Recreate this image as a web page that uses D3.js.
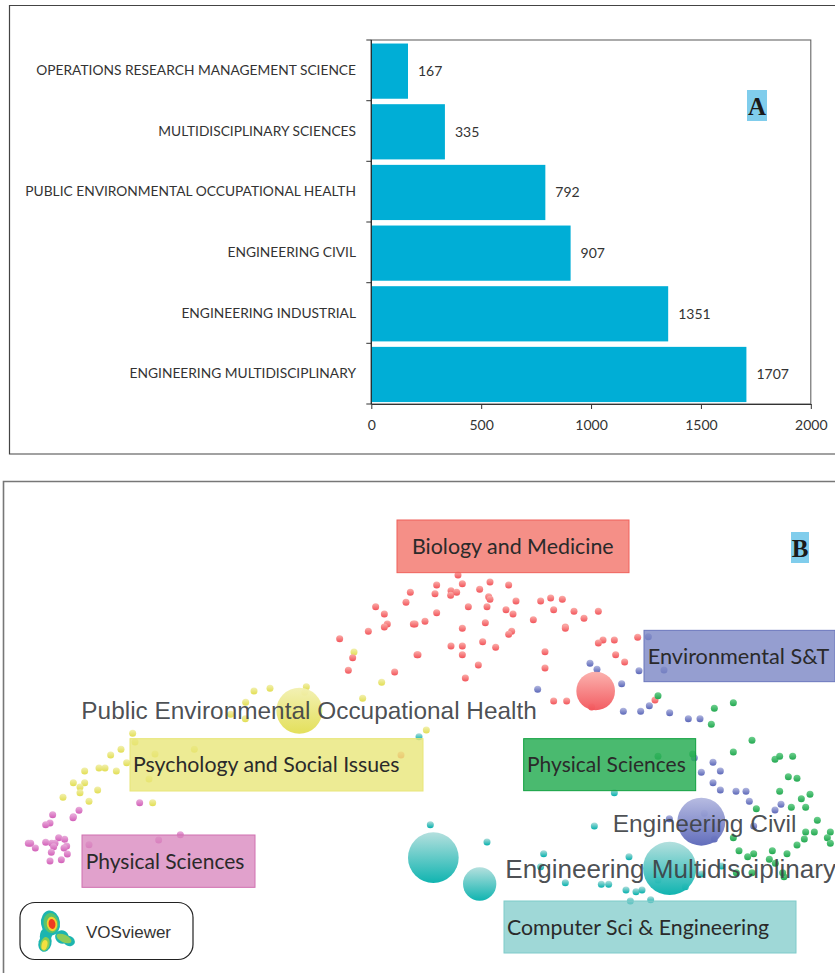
<!DOCTYPE html>
<html><head><meta charset="utf-8">
<script src="https://cdn.jsdelivr.net/npm/d3@7/dist/d3.min.js"></script>
<style>html,body{margin:0;padding:0;background:#fff}svg{display:block}</style>
</head><body><svg id="c" width="835" height="973"></svg>
<script>
const categories=["OPERATIONS RESEARCH MANAGEMENT SCIENCE","MULTIDISCIPLINARY SCIENCES","PUBLIC ENVIRONMENTAL OCCUPATIONAL HEALTH","ENGINEERING CIVIL","ENGINEERING INDUSTRIAL","ENGINEERING MULTIDISCIPLINARY"];
const counts=[167,335,792,907,1351,1707];
const countTicks=[0,500,1000,1500,2000];

// cluster map values, in map units
const yellowPts=[[1062,516],[1145,607],[1088,655],[919,620],[914,637],[810,625],[762,633],[737,667],[692,703],[736,716],[398,760],[405,786],[363,808],[332,825],[465,822],[583,808],[380,848],[297,864],[315,864],[349,873],[254,873],[447,897],[220,908],[254,908],[240,921],[240,938],[293,930],[189,952],[267,964],[458,968],[1279,750]];
const pinkPts=[[419,968],[237,991],[158,1004],[220,1010],[219,1013],[150,1029],[137,1034],[541,1064],[476,1080],[267,1094],[85,1090],[92,1090],[106,1104],[137,1087],[176,1073],[194,1078],[155,1090],[165,1090],[161,1100],[200,1098],[192,1104],[154,1117],[202,1122],[150,1143],[184,1139]];
const redPts=[[1231,337],[1218,367],[1127,380],[1153,402],[1162,432],[1153,441],[1240,432],[1105,454],[1019,476],[1058,533],[1045,571],[1184,576],[1251,524],[1203,825],[1374,285],[1310,315],[1305,341],[1353,332],[1352,346],[1370,337],[1387,311],[1439,328],[1470,306],[1526,315],[1466,350],[1470,358],[1405,380],[1461,380],[1548,363],[1518,389],[1539,402],[1310,398],[1275,424],[1245,432],[1456,428],[1387,445],[1535,454],[1526,463],[1448,485],[1353,498],[1387,498],[1487,502],[1387,524],[1254,524],[1435,555],[1396,594],[1622,363],[1652,354],[1687,358],[1661,389],[1722,394],[1752,415],[1795,394],[1600,419],[1696,441],[1696,445],[1635,515],[1635,564],[1809,480],[1795,489],[1843,480],[1913,472],[1847,524],[1874,546],[1661,663],[1700,663],[1965,660],[1775,681]];
const bluePts=[[1945,470],[1770,550],[1791,568],[1917,572],[1992,570],[1865,611],[1613,628],[1870,694],[1922,694],[1948,677],[2009,698],[2065,716],[2100,716],[2083,833],[2139,847],[2104,877],[2161,873],[2139,908],[2161,930],[2208,934],[2238,934],[2248,964],[2343,973],[2325,990],[2113,1000],[2008,1016],[2261,1038],[2143,1077]];
const greenPts=[[1974,647],[2143,685],[2200,668],[2134,733],[2256,781],[2200,816],[2078,822],[1974,829],[2325,838],[2339,829],[2378,829],[2365,890],[2391,895],[2339,934],[2404,956],[2430,943],[2417,982],[2374,982],[2269,986],[2452,1021],[2417,1056],[2443,1056],[2491,1056],[2482,1073],[2491,1090],[2413,1077],[2391,1095],[2200,1073],[2217,1112],[2261,1121],[2243,1130],[2317,1112],[2361,1121],[2308,1138],[2326,1150],[2209,1178],[2256,1178],[2352,1190],[2348,1178]];
const tealPts=[[1257,770],[1843,938],[1291,1034],[1783,1038],[1461,1086],[1631,1121],[1887,1130],[1622,1160],[2165,1158],[2105,1182],[1696,1208],[1804,1213],[1826,1213],[1974,1200],[2056,1220],[1878,1230],[1908,1235],[1926,1230],[1891,1263],[1952,1259]];
const bigNodes=[["yellow",898,692,69],["red",1787,633,58],["blue",2104,1025,72],["teal",1300,1133,76],["teal",1439,1212,50],["teal",2009,1165,80]];
const clusterNames=["Biology and Medicine","Psychology and Social Issues","Physical Sciences","Physical Sciences","Environmental S&T","Computer Sci & Engineering"];
const itemNames=["Public Environmental Occupational Health","Engineering Civil","Engineering Multidisciplinary"];
const logoName="VOSviewer";

// styling and layout
const clusterColors={yellow:["#f2f0b0","#e2de52"],pink:["#e9aedb","#d25fb8"],red:["#fbaeaa","#f2545a"],blue:["#b3b8e0","#5a66b8"],green:["#6fd08f","#22a850"],teal:["#b0dedc","#03b0ac"]};
const boxLayout=[
 {x:1191,y:120,w:696,h:158,fill:"#f2695f",stroke:"#f0605a",tx:1236,size:21.4,op:.75},
 {x:390,y:776,w:879,h:157,fill:"#e8e679",stroke:"#e8e679",tx:399,size:21.3,op:.8},
 {x:246,y:1065,w:519,h:157,fill:"#d98abf",stroke:"#d070b0",tx:257,size:21,op:.8},
 {x:1571,y:776,w:516,h:156,fill:"#2aae56",stroke:"#10a040",tx:1581,size:21,op:.85},
 {x:1932,y:451,w:573,h:154,fill:"#7a86c4",stroke:"#6a76bc",tx:1943,size:21.7,op:.8},
 {x:1512,y:1263,w:876,h:156,fill:"#7fcbca",stroke:"#7fcbca",tx:1521,size:21.3,op:.75}
];
const labelLayout=[{x:244,y:692,size:24.4},{x:1838,y:1029,size:24.5},{x:1516,y:1167,size:26.1}];
const logoBlobs=[
 [50.5,923,9.5,12.5,-8,"#1fb5b0"],[46,935,6,8,15,"#1fb5b0"],[45,943,6.5,9,15,"#1fb5b0"],[62,937,7,6.5,30,"#1fb5b0"],[69,941,6,5,25,"#1fb5b0"],
 [51,923,7.5,10,-8,"#5cc468"],[45,944,4.6,7,15,"#8ccc50"],[64,938.5,8,3.8,25,"#8ccc5a"],
 [52,924,5.2,7.2,-8,"#f4d030"],[44.5,945,2.8,5,15,"#f4e040"],[52,924,3.4,5,-8,"#ee3a20"]
];

const svg=d3.select("#c");
const defs=svg.append("defs");
Object.entries(clusterColors).forEach(([k,c])=>{
  const g=defs.append("linearGradient").attr("id","g-"+k).attr("x1",0).attr("y1",0).attr("x2",0).attr("y2",1);
  g.append("stop").attr("offset",0).attr("stop-color",c[0]);
  g.append("stop").attr("offset",1).attr("stop-color",c[1]);
});
defs.append("filter").attr("id","soft").append("feGaussianBlur").attr("stdDeviation",0.6);

const frame="#444";
svg.append("path").attr("d","M835,5.5H9.5V454H835").attr("fill","none").attr("stroke",frame).attr("stroke-width",1.2);
svg.append("path").attr("d","M835,481.5H3.5V973").attr("fill","none").attr("stroke","#777").attr("stroke-width",1.6);

// bar chart
const x=d3.scaleLinear().domain([0,2000]).range([371.3,810.8]);
const y=d3.scaleBand().domain(categories).range([40.8,404.8]).paddingInner(0.09).paddingOuter(0.045);
const font="Lato,'Open Sans',sans-serif";
svg.append("rect").attr("x",x(0)).attr("y",40).attr("width",x(2000)-x(0)).attr("height",364).attr("fill","#fff").attr("stroke","#666").attr("stroke-width",1.1);
svg.append("g").selectAll("rect").data(categories).join("rect")
 .attr("x",x(0)).attr("y",d=>y(d)).attr("height",y.bandwidth())
 .attr("width",(d,i)=>x(counts[i])-x(0)).attr("fill","#00aed6");
const ax=svg.append("g").attr("transform","translate(0,404)").call(d3.axisBottom(x).tickValues(countTicks).tickFormat(d3.format("d")).tickSize(5).tickSizeOuter(0));
ax.select(".domain").attr("stroke","#333").attr("stroke-width",1.1);
ax.selectAll("line").attr("stroke","#333");
ax.selectAll("text").attr("font-family",font).attr("font-size",14).attr("fill","#333").attr("dy",0).attr("y",25.5);
const yBoundaries=d3.range(0,7).map(i=>404-(364/6)*i);
svg.append("g").selectAll("line").data(yBoundaries).join("line")
 .attr("x1",x(0)-5).attr("x2",x(0)).attr("y1",d=>d).attr("y2",d=>d).attr("stroke","#444").attr("stroke-width",1.1);
svg.append("line").attr("x1",x(0)).attr("x2",x(0)).attr("y1",40).attr("y2",404).attr("stroke","#222").attr("stroke-width",1.1);
svg.append("g").selectAll("text").data(categories).join("text")
 .attr("x",356).attr("y",d=>y(d)+y.bandwidth()/2+4).attr("text-anchor","end")
 .attr("font-family",font).attr("font-size",13.75).attr("fill","#333").text(d=>d);
svg.append("g").selectAll("text").data(categories).join("text")
 .attr("x",(d,i)=>x(counts[i])+10).attr("y",d=>y(d)+y.bandwidth()/2+5)
 .attr("font-family",font).attr("font-size",14).attr("fill","#333").text((d,i)=>counts[i]);

// panel letters
[["A",747,90,20,31],["B",791,532,18,31]].forEach(([t,bx,by,bw,bh])=>{
  svg.append("rect").attr("x",bx).attr("y",by).attr("width",bw).attr("height",bh).attr("fill","#80cdec");
  svg.append("text").attr("x",bx+bw/2).attr("y",by+25).attr("text-anchor","middle")
   .attr("font-family","'Liberation Serif',serif").attr("font-weight",700).attr("font-size",25).attr("fill","#1a1a1a").text(t);
});

// cluster map
const mx=d3.scaleLinear().domain([0,2505]).range([0,835]);
const my=d3.scaleLinear().domain([0,1479]).range([480,973]);
const mr=d3.scaleLinear().domain([0,2505]).range([0,835]);
const clusters={yellow:yellowPts,pink:pinkPts,red:redPts,blue:bluePts,green:greenPts,teal:tealPts};
Object.entries(clusters).forEach(([k,pts])=>{
  svg.append("g").selectAll("circle").data(pts).join("circle")
   .attr("cx",d=>mx(d[0])).attr("cy",d=>my(d[1])).attr("r",3.5).attr("fill","url(#g-"+k+")");
});
svg.append("g").selectAll("circle").data(bigNodes).join("circle")
 .attr("cx",d=>mx(d[1])).attr("cy",d=>my(d[2])).attr("r",d=>mr(d[3])).attr("fill",d=>"url(#g-"+d[0]+")").attr("fill-opacity",0.95);

boxLayout.forEach((b,i)=>{
  svg.append("rect").attr("x",mx(b.x)).attr("y",my(b.y)).attr("width",mr(b.w)).attr("height",mr(b.h))
   .attr("fill",b.fill).attr("fill-opacity",b.op).attr("stroke",b.stroke).attr("stroke-width",1);
  svg.append("text").attr("x",mx(b.tx)).attr("y",my(b.y)+mr(b.h)/2+7.5).attr("font-family",font).attr("font-size",b.size).attr("fill","#2a2a2a").text(clusterNames[i]);
});
svg.append("g").selectAll("text").data(itemNames).join("text")
 .attr("x",(d,i)=>mx(labelLayout[i].x)).attr("y",(d,i)=>my(labelLayout[i].y)+8.5).attr("font-family","'Liberation Sans',Arial,sans-serif").attr("font-size",(d,i)=>labelLayout[i].size).attr("fill","#3c4044").attr("fill-opacity",0.92).text(d=>d);

// VOSviewer badge
svg.append("rect").attr("x",20).attr("y",902.5).attr("width",173).attr("height",57).attr("rx",15).attr("fill","#fff").attr("stroke","#222").attr("stroke-width",1.2);
svg.append("g").attr("filter","url(#soft)").selectAll("ellipse").data(logoBlobs).join("ellipse")
 .attr("transform",d=>`translate(${d[0]},${d[1]}) rotate(${d[4]})`).attr("rx",d=>d[2]).attr("ry",d=>d[3]).attr("fill",d=>d[5]);
svg.append("text").attr("x",86).attr("y",938).attr("font-family","'Liberation Sans',Arial,sans-serif").attr("font-size",17).attr("fill","#333").text(logoName);
</script></body></html>
